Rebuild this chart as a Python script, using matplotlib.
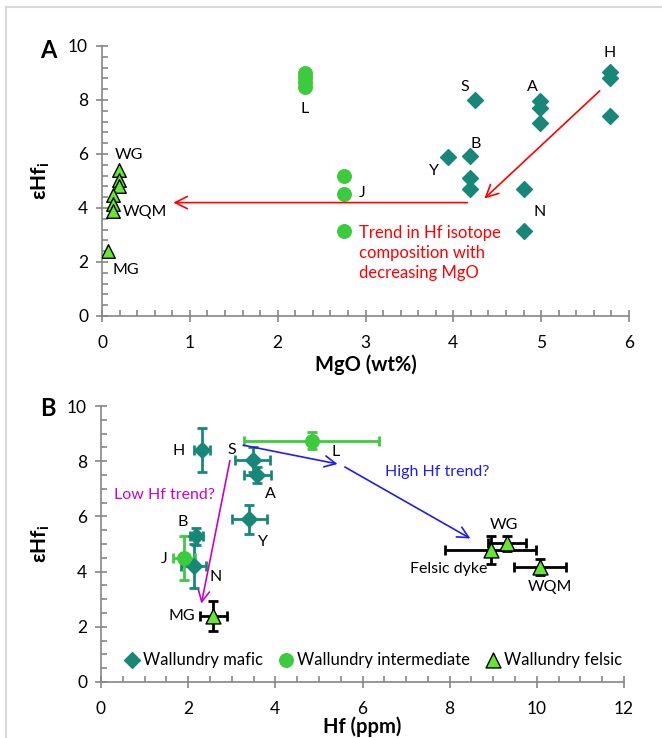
import numpy as np
import matplotlib
matplotlib.use('Agg')
import matplotlib.pyplot as plt
from matplotlib.ticker import MultipleLocator
from matplotlib.lines import Line2D

plt.rcParams['font.family'] = ['Lato', 'DejaVu Sans']
plt.rcParams['mathtext.fontset'] = 'custom'
plt.rcParams['mathtext.bf'] = 'Lato:bold'
plt.rcParams['mathtext.rm'] = 'Lato'

# colours
c_maf = '#178878'
c_int = '#3CCB3C'
c_fel = '#66E633'
c_axis = '#868686'

# ---- panel A: MgO vs eHf ----
maf_mgo = [5.78, 5.78, 5.78, 4.25, 4.99, 4.99, 4.99, 4.19, 4.19, 4.19, 3.94, 4.80, 4.80]
maf_ehf = [9.03, 8.81, 7.40, 8.01, 7.95, 7.70, 7.16, 5.93, 5.11, 4.70, 5.90, 4.69, 3.16]
int_mgo = [2.31, 2.31, 2.31, 2.31, 2.75, 2.75, 2.75]
int_ehf = [9.00, 8.85, 8.68, 8.50, 5.17, 4.53, 3.16]
fel_mgo = [0.19, 0.19, 0.19, 0.12, 0.12, 0.12, 0.07]
fel_ehf = [5.40, 5.02, 4.81, 4.47, 4.15, 3.88, 2.39]

labels_a = ['H', 'S', 'A', 'B', 'Y', 'N', 'L', 'J', 'WG', 'WQM', 'MG']
lab_a_x = [5.78, 4.13, 4.90, 4.26, 3.78, 4.98, 2.31, 2.96, 0.31, 0.49, 0.27]
lab_a_y = [9.73, 8.48, 8.48, 6.37, 5.37, 3.84, 7.66, 4.55, 5.98, 3.84, 1.69]

# ---- panel B: Hf vs eHf with errors ----
maf_hf = [2.32, 3.48, 3.58, 3.40, 2.19, 2.13]
maf_hf_err = [0.18, 0.40, 0.31, 0.40, 0.14, 0.29]
maf_ehf_b = [8.41, 8.05, 7.51, 5.89, 5.28, 4.19]
maf_ehf_b_err = [0.80, 0.45, 0.29, 0.52, 0.30, 0.80]

int_hf = [4.84, 1.90]
int_hf_err = [1.55, 0.25]
int_ehf_b = [8.75, 4.50]
int_ehf_b_err = [0.32, 0.80]

fel_hf = [2.58, 8.94, 9.32, 10.08]
fel_hf_err = [0.30, 1.05, 0.44, 0.60]
fel_ehf_b = [2.39, 4.77, 5.03, 4.16]
fel_ehf_b_err = [0.53, 0.51, 0.27, 0.28]

labels_b = ['H', 'S', 'L', 'A', 'Y', 'B', 'J', 'N', 'MG', 'WG', 'Felsic dyke', 'WQM']
lab_b_x = [1.78, 3.00, 5.39, 3.88, 3.71, 1.87, 1.45, 2.62, 1.85, 9.25, 7.98, 10.31]
lab_b_y = [8.36, 8.41, 8.32, 6.82, 5.07, 5.79, 4.46, 3.82, 2.38, 5.69, 4.10, 3.44]

W, H = 662, 738
fig = plt.figure(figsize=(W / 100, H / 100), dpi=100)

# light frame around the figure (top and left edges)
fig.add_artist(Line2D([6 / W, 1], [1 - 7 / H, 1 - 7 / H], transform=fig.transFigure, color='#D8D8D8', lw=1.5))
fig.add_artist(Line2D([6 / W, 6 / W], [0, 1 - 7 / H], transform=fig.transFigure, color='#D8D8D8', lw=1.5))


def style_axes(ax, xmaj, xmin, ymaj, ymin):
    for s in ['top', 'right']:
        ax.spines[s].set_visible(False)
    for s in ['left', 'bottom']:
        ax.spines[s].set_color(c_axis)
        ax.spines[s].set_linewidth(1.2)
    ax.xaxis.set_major_locator(MultipleLocator(xmaj))
    ax.xaxis.set_minor_locator(MultipleLocator(xmin))
    ax.yaxis.set_major_locator(MultipleLocator(ymaj))
    ax.yaxis.set_minor_locator(MultipleLocator(ymin))
    ax.tick_params(which='major', direction='inout', length=8, width=1.2, color=c_axis,
                   labelsize=12.5)
    ax.tick_params(axis='x', which='major', pad=10)
    ax.tick_params(axis='y', which='major', pad=6)
    ax.tick_params(which='minor', direction='in', length=4, width=1.2, color=c_axis)


# ---------------- panel A ----------------
ax1 = fig.add_axes([102 / W, 1 - 316 / H, (629 - 102) / W, (316 - 46) / H])
ax1.set_xlim(0, 6)
ax1.set_ylim(0, 10)
style_axes(ax1, 1, 0.2, 2, 0.4)
ax1.scatter(maf_mgo, maf_ehf, marker='D', s=65, color=c_maf, zorder=3)
ax1.scatter(int_mgo, int_ehf, marker='o', s=95, color=c_int, zorder=3)
ax1.scatter(fel_mgo, fel_ehf, marker='^', s=95, facecolor=c_fel, edgecolor='black', linewidth=1, zorder=3)
for t, x, y in zip(labels_a, lab_a_x, lab_a_y):
    ax1.text(x, y, t, ha='center', va='center', fontsize=11.5)

ax1.annotate('', xy=(4.33, 4.28), xytext=(5.69, 8.41),
             arrowprops=dict(arrowstyle='->', color='red', lw=1.2, mutation_scale=22))
ax1.annotate('', xy=(0.78, 4.20), xytext=(4.19, 4.20),
             arrowprops=dict(arrowstyle='->', color='red', lw=1.2, mutation_scale=22))
ax1.text(2.93, 2.33, 'Trend in Hf isotope\ncomposition with\ndecreasing MgO', color='red',
         fontsize=12, ha='left', va='center', linespacing=1.3)
ax1.set_xlabel('MgO (wt%)', fontsize=14.5, fontweight='bold')
ax1.xaxis.set_label_coords(0.5, -38 / (316 - 46))
ax1.set_ylabel('εHf$_\\mathbf{i}$', fontsize=15, fontweight='bold')
ax1.yaxis.set_label_coords(-(102 - 52) / (629 - 102), 0.5)
fig.text(48 / W, 1 - 50 / H, 'A', fontsize=17, fontweight='bold', ha='center', va='center')

# ---------------- panel B ----------------
ax2 = fig.add_axes([101 / W, 1 - 682 / H, (624 - 101) / W, (682 - 406) / H])
ax2.set_xlim(0, 12)
ax2.set_ylim(0, 10)
style_axes(ax2, 2, 0.5, 2, 0.5)

ax2.errorbar(maf_hf, maf_ehf_b, xerr=maf_hf_err, yerr=maf_ehf_b_err, fmt='none',
             ecolor=c_maf, elinewidth=2, capsize=3.5, capthick=2, zorder=2)
ax2.errorbar(int_hf, int_ehf_b, xerr=int_hf_err, yerr=int_ehf_b_err, fmt='none',
             ecolor=c_int, elinewidth=2, capsize=3.5, capthick=2, zorder=2)
ax2.errorbar(fel_hf, fel_ehf_b, xerr=fel_hf_err, yerr=fel_ehf_b_err, fmt='none',
             ecolor='black', elinewidth=2, capsize=3.5, capthick=2, zorder=2)
ax2.scatter(maf_hf, maf_ehf_b, marker='D', s=65, color=c_maf, zorder=3, label='Wallundry mafic')
ax2.scatter(int_hf, int_ehf_b, marker='o', s=95, color=c_int, zorder=3, label='Wallundry intermediate')
ax2.scatter(fel_hf, fel_ehf_b, marker='^', s=115, facecolor=c_fel, edgecolor='black',
            linewidth=1, zorder=3, label='Wallundry felsic')
for t, x, y in zip(labels_b, lab_b_x, lab_b_y):
    ax2.text(x, y, t, ha='center', va='center', fontsize=11.5)

ax2.annotate('', xy=(2.29, 2.74), xytext=(2.97, 8.12),
             arrowprops=dict(arrowstyle='->', color='#CC00CC', lw=1.2, mutation_scale=20))
ax2.text(1.45, 6.76, 'Low Hf trend?', color='#CC00CC', fontsize=11.5, ha='center', va='center')
ax2.annotate('', xy=(5.49, 7.88), xytext=(3.20, 8.60),
             arrowprops=dict(arrowstyle='->', color='#1E1EF0', lw=1.2, mutation_scale=20))
ax2.annotate('', xy=(8.53, 5.15), xytext=(5.54, 7.84),
             arrowprops=dict(arrowstyle='->', color='#1E1EF0', lw=1.2, mutation_scale=20))
ax2.text(7.71, 7.60, 'High Hf trend?', color='#1E1EF0', fontsize=11.5, ha='center', va='center')

ax2.legend(loc='center', bbox_to_anchor=(0.518, 0.081), ncol=3, frameon=False, fontsize=12,
           handletextpad=0.05, columnspacing=0.8, borderaxespad=0, handlelength=1.2)
ax2.set_xlabel('Hf (ppm)', fontsize=14.5, fontweight='bold')
ax2.xaxis.set_label_coords(0.5, -34 / (682 - 406))
ax2.set_ylabel('εHf$_\\mathbf{i}$', fontsize=15, fontweight='bold')
ax2.yaxis.set_label_coords(-(101 - 52) / (624 - 101), 0.5)
fig.text(48 / W, 1 - 408 / H, 'B', fontsize=17, fontweight='bold', ha='center', va='center')

fig.savefig('out.png', dpi=100)
